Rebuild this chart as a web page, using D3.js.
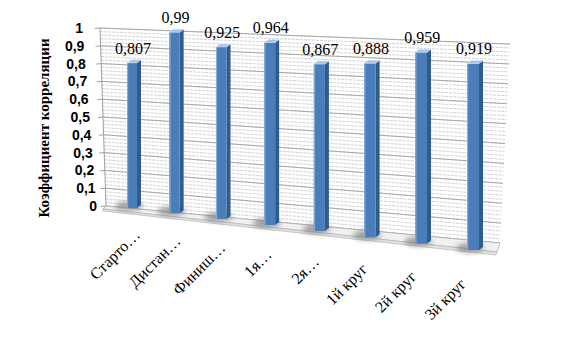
<html>
<head>
<meta charset="utf-8">
<style>body{margin:0;background:#fff}</style>
</head>
<body>
<script src="https://d3js.org/d3.v7.min.js"></script>
<script>
var categories = ['Старто…', 'Дистан…', 'Финиш…', '1я…', '2я…', '1й круг', '2й круг', '3й круг'];
var values = [0.807, 0.99, 0.925, 0.964, 0.867, 0.888, 0.959, 0.919];
var yTicks = [0, 0.1, 0.2, 0.3, 0.4, 0.5, 0.6, 0.7, 0.8, 0.9, 1];
var yTickLabels = ['0', '0,1', '0,2', '0,3', '0,4', '0,5', '0,6', '0,7', '0,8', '0,9', '1'];

var width = 570, height = 355;
var fmt = d => String(d).replace('.', ',');

var svg = d3.select('body').append('svg')
    .attr('width', width).attr('height', height);

var defs = svg.append('defs');
defs.append('filter').attr('id', 'blur').attr('x', '-50%').attr('y', '-50%').attr('width', '200%').attr('height', '200%')
    .append('feGaussianBlur').attr('stdDeviation', 2.5);

// стенка: левый и правый край в перспективе
var yLeft = d3.scaleLinear().domain([0, 1]).range([206, 28]);
var yRight = d3.scaleLinear().domain([0, 1]).range([243, 44]);
var xLeft = d3.scaleLinear().domain([0, 1]).range([106, 100]);
var xRight = d3.scaleLinear().domain([0, 1]).range([500, 510]);

var wall = svg.append('g');
wall.append('polygon')
    .attr('points', [[xLeft(0), yLeft(0)], [xLeft(1), yLeft(1)], [xRight(1), yRight(1)], [xRight(0), yRight(0)]].join(' '))
    .attr('fill', '#fff');

// мелкие линии сетки (штриховка стенки)
var minor = d3.range(0, 1.0001, 0.02);
wall.selectAll('line.minor').data(minor).enter().append('line')
    .attr('x1', d => xLeft(d)).attr('y1', d => yLeft(d))
    .attr('x2', d => xRight(d)).attr('y2', d => yRight(d))
    .attr('stroke', '#c6c6c6').attr('stroke-width', 0.8).attr('stroke-dasharray', '3,1');

// основные линии сетки
wall.selectAll('line.major').data(yTicks).enter().append('line')
    .attr('x1', d => xLeft(d)).attr('y1', d => yLeft(d))
    .attr('x2', d => xRight(d)).attr('y2', d => yRight(d))
    .attr('stroke', '#a0a0a0').attr('stroke-width', 0.9);

// ось Y
wall.append('line')
    .attr('x1', xLeft(0)).attr('y1', yLeft(0)).attr('x2', xLeft(1)).attr('y2', yLeft(1))
    .attr('stroke', '#a0a0a0');
wall.selectAll('line.tick').data(yTicks).enter().append('line')
    .attr('x1', d => xLeft(d) - 5).attr('y1', d => yLeft(d) + 0.5)
    .attr('x2', d => xLeft(d)).attr('y2', d => yLeft(d))
    .attr('stroke', '#a0a0a0');

var labelX = d3.scaleLinear().domain([0, 1]).range([97, 83]);
svg.selectAll('text.ytick').data(yTicks).enter().append('text')
    .attr('x', d => labelX(d)).attr('y', d => yLeft(d) + 5)
    .attr('text-anchor', 'end')
    .attr('font-family', 'Liberation Sans, Arial, sans-serif')
    .attr('font-weight', 'bold').attr('font-size', 14)
    .text((d, i) => yTickLabels[i]);

svg.append('text')
    .attr('transform', 'translate(49,128) rotate(-90)')
    .attr('text-anchor', 'middle')
    .attr('font-family', 'Liberation Serif, Times New Roman, serif')
    .attr('font-weight', 'bold').attr('font-size', 15)
    .text('Коэффициент корреляции');

// пол
var floorPts = [[106, 206], [500, 243], [497, 252], [103, 209]];
svg.append('polygon')
    .attr('points', floorPts.join(' '))
    .attr('fill', '#f1f1f1').attr('stroke', '#b0b0b0').attr('stroke-width', 0.8);
svg.append('polygon')
    .attr('points', [[103, 209], [497, 252], [496, 255], [103, 211]].join(' '))
    .attr('fill', '#e2e2e2').attr('stroke', '#b0b0b0').attr('stroke-width', 0.6);

// шкалы столбиков
var idx = d3.scalePow().exponent(1.07).domain([0, categories.length - 1]).range([132, 473]);
var baseY = d3.scaleLinear().domain([132, 473]).range([208, 250]);
var unitH = d3.scaleLinear().domain([132, 473]).range([180, 203]);
var frontW = d3.scaleLinear().domain([132, 473]).range([10, 12]);
var sideW = 4, topD = 3;

svg.selectAll('g.bar').data(values).enter().append('g').attr('class', 'bar')
    .each(function (v, i) {
        var c = idx(i), g = d3.select(this);
        var w = frontW(c), xl = c - w / 2, xr = c + w / 2;
        var yb = baseY(c), yt = yb - unitH(c) * v;
        g.append('ellipse')
            .attr('cx', c - 3).attr('cy', yb - 2).attr('rx', 14).attr('ry', 4.5)
            .attr('fill', '#808080').attr('opacity', 0.75).attr('filter', 'url(#blur)');
        g.append('polygon')
            .attr('points', [[xr, yt], [xr + sideW, yt - topD], [xr + sideW, yb - topD], [xr, yb]].join(' '))
            .attr('fill', '#2f5b8f');
        g.append('rect')
            .attr('x', xl).attr('y', yt).attr('width', w).attr('height', yb - yt)
            .attr('fill', '#4a7ebb');
        g.append('rect')
            .attr('x', xl).attr('y', yt).attr('width', 1.2).attr('height', yb - yt)
            .attr('fill', '#86aad8');
        g.append('polygon')
            .attr('points', [[xl, yt], [xr, yt], [xr + sideW, yt - topD], [xl + sideW, yt - topD]].join(' '))
            .attr('fill', '#a9c3e6').attr('stroke', '#dfe9f6').attr('stroke-width', 0.5);
        g.append('text')
            .attr('x', c + 1).attr('y', yt - 9)
            .attr('text-anchor', 'middle')
            .attr('font-family', 'Liberation Serif, Times New Roman, serif')
            .attr('font-size', 16)
            .text(fmt(v));
    });

// подписи категорий
var labX = d3.scaleLinear().domain([132, 473]).range([141, 467]);
var labY = d3.scaleLinear().domain([132, 473]).range([236, 285]);
svg.selectAll('text.cat').data(categories).enter().append('text')
    .attr('transform', (d, i) => `translate(${labX(idx(i))},${labY(idx(i))}) rotate(-45)`)
    .attr('text-anchor', 'end')
    .attr('font-family', 'Liberation Serif, Times New Roman, serif')
    .attr('font-size', 16)
    .text(d => d);
</script>
</body>
</html>
